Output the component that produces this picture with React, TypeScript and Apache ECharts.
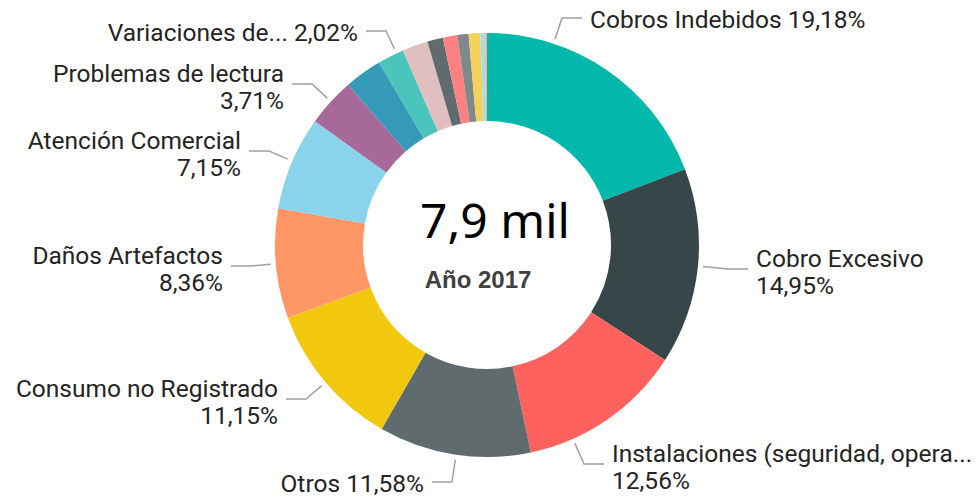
import React, { useEffect, useRef } from "react";
import * as echarts from "echarts";

const categories = [
  "Cobros Indebidos",
  "Cobro Excesivo",
  "Instalaciones (seguridad, opera...",
  "Otros",
  "Consumo no Registrado",
  "Daños Artefactos",
  "Atención Comercial",
  "Problemas de lectura",
  "Categoría 9",
  "Variaciones de...",
  "Categoría 11",
  "Categoría 12",
  "Categoría 13",
  "Categoría 14",
  "Categoría 15",
  "Categoría 16",
  "Categoría 17",
];
const shares = [
  19.18, 14.95, 12.56, 11.58, 11.15, 8.36, 7.15, 3.71, 2.85, 2.02, 1.95, 1.2, 1.1, 0.85, 0.9, 0.35, 0.14,
];
const labelled = [true, true, true, true, true, true, true, true, false, true, false, false, false, false, false, false, false];
const singleLine = [true, false, false, true, false, false, false, false, false, true, false, false, false, false, false, false, false];
const colors = [
  "#01B8AA", "#374649", "#FD625E", "#5F6B6D", "#F2C80F", "#FE9666", "#8AD4EB", "#A66999",
  "#3599B8", "#4AC5BB", "#DFBFBF", "#5F6B6D", "#FB8281", "#7F898A", "#F4D25A", "#A4DDEE", "#FDAB89",
];
const totalText = "7,9 mil";
const yearText = "Año 2017";

// layout constants
const CX = 487;
const CY = 245;
const R_IN = 124;
const R_OUT = 212;
const LINE_R = 217;
const GAP = 8;
const ELBOW = 20;

// label anchor placements (layout only)
const placements: Record<number, { x: number; y: number; align: string }> = {
  0: { x: 590, y: 19, align: "left" },
  1: { x: 756, y: 272, align: "left" },
  2: { x: 612, y: 467, align: "left" },
  3: { x: 424, y: 483, align: "right" },
  4: { x: 278, y: 402, align: "right" },
  5: { x: 223, y: 269, align: "right" },
  6: { x: 241, y: 154, align: "right" },
  7: { x: 284, y: 87, align: "right" },
  9: { x: 358, y: 32, align: "right" },
};

const fmt = (v: number) => v.toFixed(2).replace(".", ",") + "%";

export default function App() {
  const ref = useRef<HTMLDivElement>(null);
  useEffect(() => {
    if (!ref.current) return;
    const chart = echarts.init(ref.current, undefined, { renderer: "svg" });
    const data = categories.map((name, i) => ({
      name,
      value: shares[i],
      itemStyle: { color: colors[i] },
      label: { show: labelled[i], lineHeight: singleLine[i] ? 22 : 27 },
      labelLine: { show: labelled[i] },
    }));
    chart.setOption({
      animation: false,
      backgroundColor: "#ffffff",
      series: [
        {
          type: "pie",
          center: [CX, CY],
          radius: [R_IN, R_OUT],
          startAngle: 90,
          clockwise: true,
          avoidLabelOverlap: false,
          data,
          label: {
            show: true,
            position: "outside",
            fontFamily: "Roboto",
            fontSize: 24.5,
            lineHeight: 27,
            color: "#252423",
            formatter: (p: any) =>
              singleLine[p.dataIndex] ? `${p.name} ${fmt(p.value)}` : `${p.name}\n${fmt(p.value)}`,
          },
          labelLine: {
            show: true,
            length: 15,
            length2: 18,
            lineStyle: { color: "#a0a0a0", width: 1.5 },
          },
          labelLayout: (params: any) => {
            const i = params.dataIndex;
            const p = placements[i];
            if (!p) return {};
            const dir = p.align === "left" ? -1 : 1;
            const ly = p.y - (singleLine[i] ? 1 : 3);
            const end = [p.x + dir * GAP, ly];
            const elbow = [end[0] + dir * ELBOW, ly];
            const dx = elbow[0] - CX;
            const dy = elbow[1] - CY;
            const d = Math.sqrt(dx * dx + dy * dy);
            const start = [CX + (dx / d) * LINE_R, CY + (dy / d) * LINE_R];
            return {
              x: p.x,
              y: p.y,
              align: p.align,
              verticalAlign: "middle",
              labelLinePoints: [start, elbow, end],
            };
          },
        },
      ],
      graphic: [
        {
          type: "text",
          x: 495,
          y: 219,
          style: {
            text: totalText,
            fontFamily: "Noto Sans",
            fontSize: 48,
            fill: "#000000",
            align: "center",
            verticalAlign: "middle",
            textAlign: "center",
            textVerticalAlign: "middle",
          },
        },
        {
          type: "text",
          x: 478,
          y: 279,
          style: {
            text: yearText,
            fontFamily: "Liberation Sans",
            fontWeight: "bold",
            fontSize: 24,
            fill: "#404040",
            align: "center",
            verticalAlign: "middle",
            textAlign: "center",
            textVerticalAlign: "middle",
          },
        },
      ],
    });
    return () => chart.dispose();
  }, []);
  return (
    <div
      ref={ref}
      style={{ position: "absolute", left: 0, top: 0, width: 976, height: 496 }}
    />
  );
}
